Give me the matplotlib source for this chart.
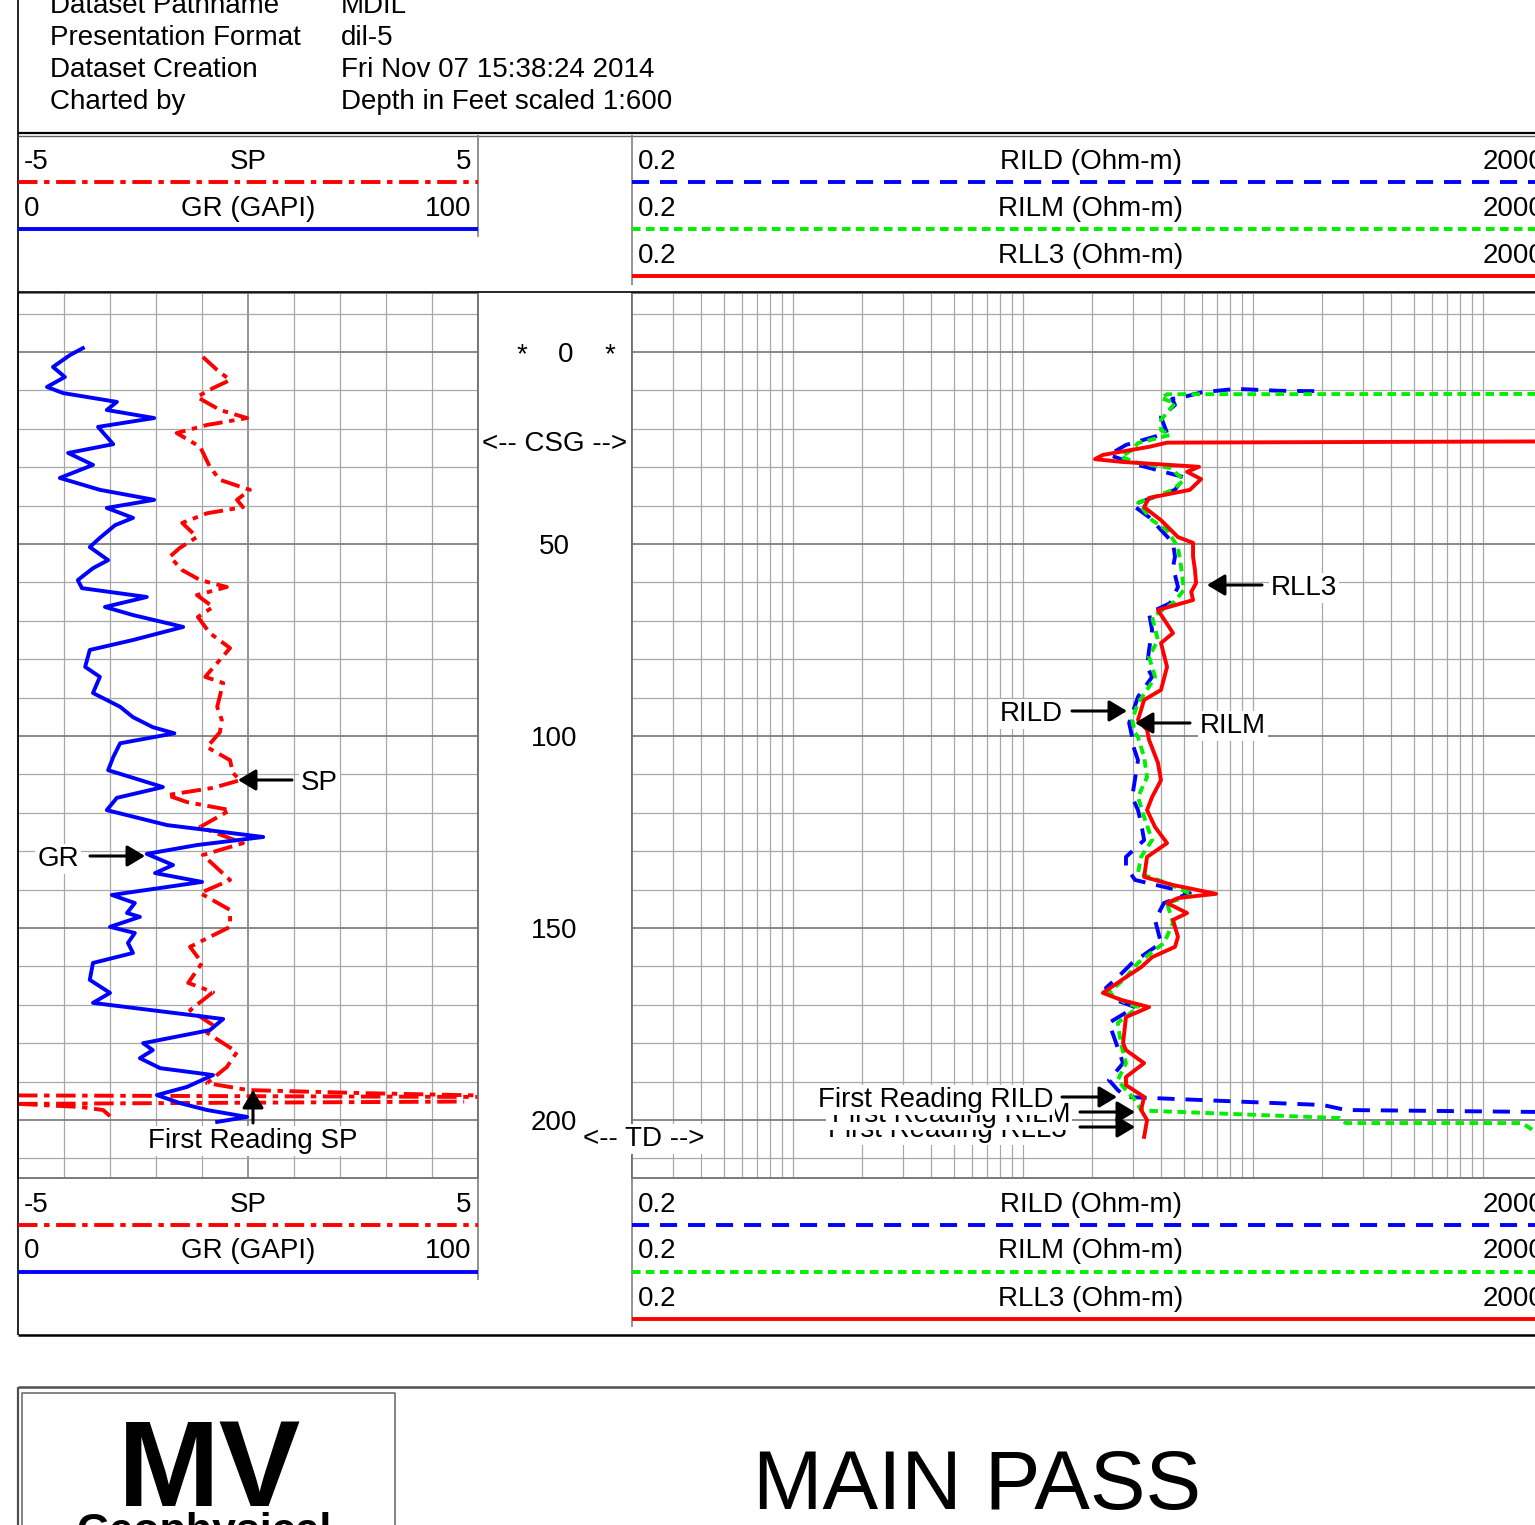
import matplotlib
matplotlib.use('Agg')
import matplotlib.pyplot as plt

plt.rcParams['font.family'] = ['Liberation Sans', 'DejaVu Sans']

W, H = 1535, 1525          # output size in pixels
FS = 20                    # main text size

# ---------------- header text ----------------
header_keys = ['Dataset Pathname', 'Presentation Format', 'Dataset Creation', 'Charted by']
header_vals = ['MDIL', 'dil-5', 'Fri Nov 07 15:38:24 2014', 'Depth in Feet scaled 1:600']

left_scales = [('-5', 'SP', '5'), ('0', 'GR (GAPI)', '100')]
right_scales = [('0.2', 'RILD (Ohm-m)', '2000'),
                ('0.2', 'RILM (Ohm-m)', '2000'),
                ('0.2', 'RLL3 (Ohm-m)', '2000')]

depth_labels = [0, 50, 100, 150, 200]
casing_depth = 23.2
td_depth = 204.4

# ---------------- log curves (depth in ft) ----------------
gr_depth = [-1.0, 0.8, 3.9, 6.5, 9.1, 10.7, 13.0, 15.1, 17.2, 19.5, 22.1, 24.0, 26.3, 29.4,
            32.8, 35.9, 38.5, 40.6, 43.2, 45.1, 48.4, 50.8, 54.2, 56.3, 59.4, 61.5, 63.8,
            66.4, 68.5, 71.6, 75.0, 77.6, 82.0, 84.6, 88.8, 92.4, 95.1, 97.7, 99.3, 101.9,
            105.5, 108.9, 113.3, 116.1, 119.3, 123.2, 126.3, 128.4, 130.7, 133.6, 135.7,
            138.0, 141.4, 143.5, 146.1, 147.1, 149.7, 151.3, 153.9, 156.5, 159.1, 163.5,
            166.9, 169.5, 170.8, 173.7, 176.6, 180.0, 181.8, 183.9, 186.5, 188.3, 191.4,
            193.5, 195.6, 197.4, 199.2, 200.5]
gr_api = [14.1, 11.3, 7.6, 10.2, 6.3, 9.8, 21.5, 19.3, 29.6, 17.4, 19.3, 20.7, 10.9, 16.3,
          9.1, 17.8, 29.6, 19.3, 25.0, 21.1, 17.8, 15.6, 19.6, 16.3, 13.0, 13.9, 28.0,
          18.9, 25.0, 35.9, 25.0, 15.6, 14.6, 17.8, 16.3, 22.2, 25.0, 29.3, 34.0, 22.2,
          20.7, 19.6, 31.5, 21.5, 19.3, 32.4, 53.3, 38.9, 28.0, 33.7, 29.8,
          40.0, 20.4, 25.4, 23.7, 26.5, 20.0, 25.4, 23.9, 25.0, 16.3, 15.6,
          20.0, 16.3, 25.0, 44.6, 41.7, 27.2, 29.3, 26.5, 30.9, 42.4, 36.7,
          30.2, 35.2, 41.1, 49.8, 43.3]

sp_depth = [1.3, 4.7, 7.3, 9.4, 11.7, 15.1, 17.2, 19.0, 21.1, 24.7, 29.9, 33.3, 35.9, 38.5,
            40.4, 42.0, 44.5, 48.2, 51.0, 53.3, 56.8, 59.4, 61.2, 63.3, 66.4, 69.0, 73.2,
            77.1, 84.6, 86.2, 92.4, 95.8, 99.0, 102.9, 106.3, 109.6, 111.5, 113.5, 115.4,
            117.2, 119.3, 123.7, 127.9, 131.0, 137.5, 140.9, 145.3, 149.7, 154.9, 159.1,
            164.3, 166.7, 171.4, 175.3, 177.3, 182.3, 186.2, 190.4, 192.2, 193.0, 193.6]
sp_mv = [-0.98, -0.67, -0.39, -0.76, -1.11, -0.61, -0.02, -0.89, -1.55, -1.04, -0.83, -0.61,
         0.04, -0.24, -0.11, -0.89, -1.43, -1.11, -1.48, -1.70, -1.43, -1.04, -0.46, -1.11,
         -0.76, -1.09, -0.83, -0.39, -0.93, -0.54, -0.67, -0.57, -0.61, -0.89, -0.39,
         -0.33, -0.17, -0.76, -1.76, -1.33, -0.39, -1.04, -0.11, -0.98, -0.39, -1.04,
         -0.39, -0.39, -1.26, -1.0, -1.3, -0.76, -1.26, -0.76, -0.89, -0.24, -0.46,
         -0.89, 0.0, 2.5, 5.0]
# SP backup (wrap-around) traces near the bottom
sp_wrap1_depth = [193.6, 194.0]
sp_wrap1_mv = [-5.0, 5.0]
sp_wrap2_depth = [195.8, 195.2]
sp_wrap2_mv = [-5.0, 4.7]
sp_wrap3_depth = [195.8, 196.6, 197.4, 199.0]
sp_wrap3_mv = [-5.0, -3.65, -3.15, -3.0]

rild_depth = [10.2, 10.1, 9.6, 10.5, 11.7, 12.2, 13.8, 16.9, 21.1, 24.2, 26.8, 29.4, 32.6,
              35.9, 39.8, 43.0, 49.7, 53.3, 56.0, 61.2, 65.4, 68.0, 72.4, 77.6, 82.0, 84.6,
              89.8, 96.6, 100.3, 101.8, 106.3, 115.9, 119.3, 122.7, 127.1, 131.5, 134.1,
              137.5, 140.9, 143.5, 147.9, 153.9, 159.1, 162.8, 165.6, 168.7, 170.6, 174.7,
              179.2, 185.2, 189.6, 192.2, 194.0, 196.1, 197.4, 197.9]
rild = [185, 130, 84.5, 60, 50.2, 44.6, 45.9, 39.9, 42.4, 28.1, 23.7, 31.7, 50.2,
        45.9, 29.9, 35.4, 45.0, 45.9, 45.0, 47.3, 43.7, 35.4, 36.5, 35.4, 34.7, 36.5,
        31.7, 29.0, 29.9, 29.9, 31.7, 29.9, 31.7, 32.7, 33.7, 28.1, 28.1,
        30.8, 53.3, 41.1, 37.6, 39.9, 29.9, 25.9, 23.0, 25.2, 30.8, 23.7,
        25.2, 27.3, 23.7, 25.9, 28.1, 202, 254, 1700]

rilm_depth = [10.9, 11.0, 12.0, 13.3, 17.7, 20.3, 21.6, 23.7, 25.5, 27.3, 28.9, 30.2, 33.3,
              35.9, 39.3, 43.8, 46.4, 50.8, 56.0, 62.0, 65.4, 69.0, 75.0, 79.4, 84.6, 88.0,
              91.4, 95.8, 99.2, 100.3, 105.5, 110.7, 115.9, 121.1, 127.1, 131.5, 135.7,
              138.3, 141.4, 143.5, 148.7, 153.9, 159.1, 162.8, 166.9, 169.5, 170.6, 174.7,
              180.0, 185.2, 189.6, 192.2, 194.8, 197.4, 197.6, 199.5, 200.8, 200.8, 203.0]
rilm = [5000, 42.4, 39.9, 45.9, 39.9, 39.9, 43.7, 31.7, 29.9, 26.7, 31.7, 43.7, 50.2,
        45.0, 31.7, 36.5, 42.4, 47.3, 48.8, 50.2, 45.0, 36.5, 38.7, 35.4, 37.6, 34.7,
        31.7, 29.9, 30.8, 31.7, 33.7, 34.7, 31.7, 33.7, 36.5, 32.7, 31.7,
        42.4, 55.0, 42.4, 45.0, 41.1, 31.7, 28.1, 23.7, 28.1, 31.7, 25.9,
        26.7, 28.1, 25.9, 28.1, 30.8, 32.7, 35.4, 239, 254, 1483, 1690]

rll3_depth = [23.2, 23.6, 24.7, 26.8, 27.9, 28.6, 29.9, 31.2, 33.1, 35.9, 38.0, 40.4, 43.8,
              48.2, 49.7, 53.3, 56.5, 60.2, 62.5, 64.6, 67.2, 73.2, 75.8, 82.0, 88.0, 90.6,
              95.8, 98.4, 101.0, 107.0, 111.5, 115.9, 119.3, 123.7, 127.9, 131.5, 136.7,
              138.8, 141.1, 142.2, 143.5, 146.1, 147.9, 152.3, 154.9, 157.6, 160.2, 162.8,
              166.9, 168.7, 170.6, 173.2, 180.0, 181.8, 185.2, 188.8, 190.9, 194.0, 197.4,
              200.0, 204.4]
rll3 = [5000, 42.4, 35.4, 22.3, 20.6, 26.7, 58.4, 51.8, 59.6, 53.3, 35.4, 33.7, 39.9,
        47.3, 55.0, 55.0, 56.0, 56.7, 54.0, 55.0, 38.7, 45.0, 39.9, 42.4, 39.9, 33.7,
        31.7, 34.7, 35.4, 38.7, 39.9, 36.5, 34.7, 37.6, 42.4, 34.7, 33.7,
        45.0, 69.2, 47.3, 42.4, 51.8, 45.0, 47.3, 45.9, 36.5, 32.7, 28.1,
        22.3, 26.7, 35.4, 28.1, 27.3, 28.1, 33.7, 28.1, 28.1, 33.7, 32.7,
        34.7, 33.7]

# ---------------- styles ----------------
LW = 2.8
RED, BLUE, GREEN = '#ff0000', '#0000ff', '#00ee00'
SP_LS = (0, (5.0, 1.7, 1.4, 1.7))
RILD_LS = (0, (4.4, 2.8))
RILM_LS = (0, (2.2, 1.4))
GRID_C, GRID_DARK = '#a8a8a8', '#808080'

top_px, bot_px = 293, 1178
d_top = (top_px - 352) / 3.84
d_bot = (bot_px - 352) / 3.84

fig = plt.figure(figsize=(W / 100, H / 100), dpi=100)


def track_axes(x0, x1):
    return fig.add_axes([x0 / W, 1 - bot_px / H, (x1 - x0) / W, (bot_px - top_px) / H])


ax_l = track_axes(18, 478)
ax_d = track_axes(478, 632)
ax_r = track_axes(632, 1552)

for ax in (ax_l, ax_d, ax_r):
    ax.set_ylim(d_bot, d_top)
    ax.set_xticks([])
    ax.set_yticks([])
    for s in ax.spines.values():
        s.set_color('#707070')
        s.set_linewidth(1.3)

# left track: SP -5..5, GR 0..100 on twin axis
ax_l.set_xlim(-5, 5)
for v in range(-4, 5):
    ax_l.axvline(v, color=GRID_DARK if v == 0 else GRID_C, lw=1.2 if v == 0 else 0.9, zorder=0)
for d in range(-10, 215, 10):
    dark = d % 50 == 0
    ax_l.axhline(d, color=GRID_DARK if dark else GRID_C, lw=1.3 if dark else 0.9, zorder=0)
ax_l.plot(sp_mv, sp_depth, color=RED, lw=LW, ls=SP_LS, zorder=3)
for dd, vv in ((sp_wrap1_depth, sp_wrap1_mv), (sp_wrap2_depth, sp_wrap2_mv),
               (sp_wrap3_depth, sp_wrap3_mv)):
    ax_l.plot(vv, dd, color=RED, lw=LW, ls=SP_LS, zorder=3)

ax_gr = ax_l.twiny()
ax_gr.set_xlim(0, 100)
ax_gr.set_xticks([])
for s in ax_gr.spines.values():
    s.set_visible(False)
ax_gr.plot(gr_api, gr_depth, color=BLUE, lw=LW, solid_joinstyle='round')

# depth track
for s in ('top', 'bottom'):
    ax_d.spines[s].set_visible(False)
ytr = ax_d.get_yaxis_transform()
for d in depth_labels:
    x = 0.571 if d == 0 else 0.494
    ax_d.text(x, d, str(d), transform=ytr, ha='center', va='center_baseline', fontsize=FS)
ax_d.text(0.286, 0, '*', transform=ytr, ha='center', va='center_baseline', fontsize=FS)
ax_d.text(0.857, 0, '*', transform=ytr, ha='center', va='center_baseline', fontsize=FS)
ax_d.text(0.5, casing_depth, '<-- CSG -->', transform=ytr,
          ha='center', va='center_baseline', fontsize=FS)

# right track: log 0.2..2000
ax_r.set_xscale('log')
ax_r.set_xlim(0.2, 2000)
ax_r.tick_params(which='both', length=0, labelbottom=False, labelleft=False)
ax_r.minorticks_off()
grid_vals = [k * 10 ** e for e in range(-1, 4) for k in range(1, 10)]
for v in grid_vals:
    if 0.2 < v < 2000:
        ax_r.axvline(v, color=GRID_C, lw=0.9, zorder=0)
for d in range(-10, 215, 10):
    dark = d % 50 == 0
    ax_r.axhline(d, color=GRID_DARK if dark else GRID_C, lw=1.3 if dark else 0.9, zorder=0)
ax_r.plot(rild, rild_depth, color=BLUE, lw=LW, ls=RILD_LS, zorder=3)
ax_r.plot(rilm, rilm_depth, color=GREEN, lw=LW, ls=RILM_LS, zorder=4)
ax_r.plot(rll3, rll3_depth, color=RED, lw=LW, zorder=5, solid_joinstyle='round')

# ---------------- overlay in pixel coordinates ----------------
cv = fig.add_axes([0, 0, 1, 1], zorder=10)
cv.set_xlim(0, W)
cv.set_ylim(H, 0)
cv.axis('off')
cv.patch.set_alpha(0)


def hline(y, x0, x1, **kw):
    cv.plot([x0, x1], [y, y], solid_capstyle='butt', **kw)


def vline(x, y0, y1, **kw):
    cv.plot([x, x], [y0, y1], solid_capstyle='butt', **kw)


# frame
vline(18, 0, 1335, color='black', lw=1.2)
hline(132.5, 18, W, color='black', lw=1.6)
hline(135.5, 18, W, color='#606060', lw=1.0)
hline(292, 18, W, color='black', lw=1.2)
hline(1335, 18, W, color='black', lw=1.8)
hline(1387, 18, W, color='#505050', lw=1.8)
vline(18, 1387, H, color='#505050', lw=1.6)
vline(478, 135, 237, color=GRID_DARK, lw=1.2)
vline(632, 135, 285, color=GRID_DARK, lw=1.2)
vline(478, 1178, 1280, color=GRID_DARK, lw=1.2)
vline(632, 1178, 1327, color=GRID_DARK, lw=1.2)
cv.plot([22, 22, 395, 395], [H, 1393, 1393, H], color='#707070', lw=1.2)

# header block
for i, (k, v) in enumerate(zip(header_keys, header_vals)):
    y = 3 + 32 * i
    cv.text(50, y, k, fontsize=FS, va='center_baseline')
    cv.text(341, y, v, fontsize=FS, va='center_baseline')

# curve scale headers (top and bottom)
left_styles = [dict(color=RED, ls=SP_LS), dict(color=BLUE, ls='-')]
right_styles = [dict(color=BLUE, ls=RILD_LS), dict(color=GREEN, ls=RILM_LS), dict(color=RED, ls='-')]
for y0 in (159, 1201.5):
    for i, (lo, name, hi) in enumerate(left_scales):
        y = y0 + 47 * i
        cv.text(24, y, lo, fontsize=FS, va='center_baseline')
        cv.text(248, y, name, fontsize=FS, va='center_baseline', ha='center')
        cv.text(471, y, hi, fontsize=FS, va='center_baseline', ha='right')
        hline(y + 23, 18, 478, lw=LW, **left_styles[i])
    for i, (lo, name, hi) in enumerate(right_scales):
        y = y0 + 47 * i
        cv.text(638, y, lo, fontsize=FS, va='center_baseline')
        cv.text(1091, y, name, fontsize=FS, va='center_baseline', ha='center')
        cv.text(1545, y, hi, fontsize=FS, va='center_baseline', ha='right')
        hline(y + 23, 632, 1552, lw=LW, **right_styles[i])

# curve annotations
ARROW = dict(arrowstyle='-|>,head_length=0.6,head_width=0.36', mutation_scale=18,
             lw=2.2, color='black', shrinkA=0, shrinkB=0)
BOX = dict(facecolor='white', edgecolor='none', pad=1.5)


def label(x, y, s, ha='left', z=11):
    cv.text(x, y, s, fontsize=FS, ha=ha, va='center_baseline', bbox=BOX, zorder=z)


def arrow(tail, tip):
    cv.annotate('', xy=tip, xytext=tail, arrowprops=ARROW, zorder=12)


label(301, 780, 'SP')
arrow((292, 780), (238, 780))
label(79, 856, 'GR', ha='right')
arrow((90, 856), (145, 856))
label(253, 1138, 'First Reading SP', ha='center')
arrow((253, 1123), (253, 1090))
label(1271, 585, 'RLL3')
arrow((1262, 585), (1207, 585))
label(1063, 711, 'RILD', ha='right')
arrow((1072, 711), (1127, 711))
label(1200, 723, 'RILM')
arrow((1190, 723), (1135, 723))
label(1053, 1097, 'First Reading RILD', ha='right', z=13)
arrow((1062, 1097), (1117, 1097))
label(1070, 1112, 'First Reading RILM', ha='right', z=12)
arrow((1080, 1112), (1135, 1112))
label(1067, 1127, 'First Reading RLL3', ha='right', z=11)
arrow((1080, 1127), (1135, 1127))
label(644, 1136, '<-- TD -->', ha='center')

# title block (no condensed face installed, so sizes are fitted to the widths)
cv.text(209, 1461, 'MV', fontweight='bold', fontsize=88,
        ha='center', va='center_baseline')
cv.text(204, 1528, 'Geophysical', fontweight='bold', fontsize=31,
        ha='center', va='center_baseline')
cv.text(977, 1478, 'MAIN PASS', fontsize=60,
        ha='center', va='center_baseline')

fig.savefig('out.png', dpi=100)
